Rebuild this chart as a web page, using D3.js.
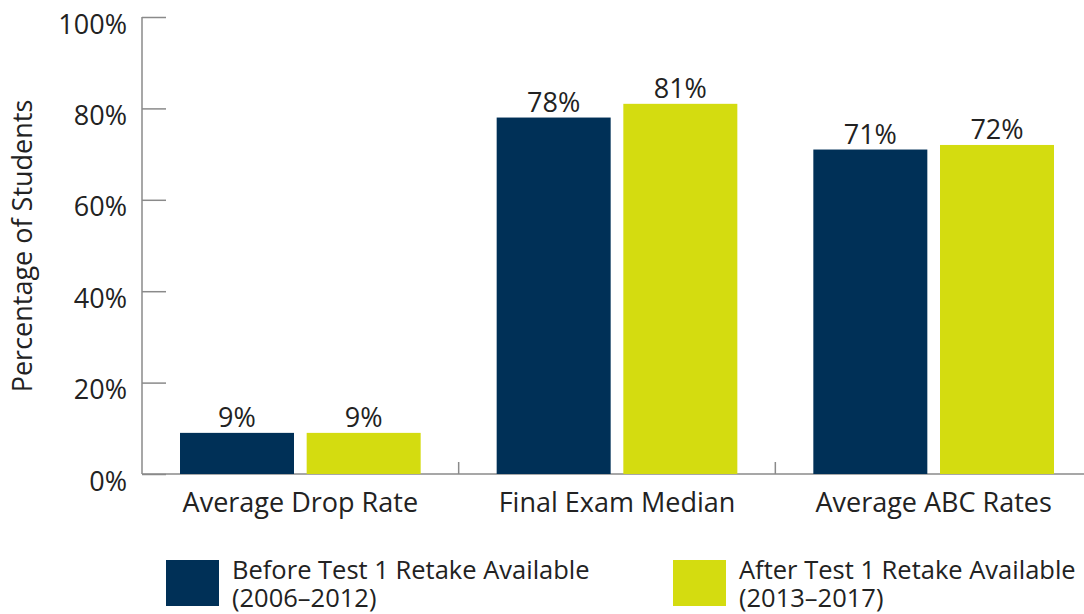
<!DOCTYPE html>
<html>
<head>
<meta charset="utf-8">
<script src="https://cdn.jsdelivr.net/npm/d3@7"></script>
<style>
  body { margin: 0; background: #fff; }
  svg { display: block; font-family: "Open Sans", "Noto Sans", sans-serif; }
</style>
</head>
<body>
<svg id="chart" width="1084" height="614"></svg>
<script>
const categories = ["Average Drop Rate", "Final Exam Median", "Average ABC Rates"];
const seriesKeys = ["before", "after"];
const beforeValues = [9, 78, 71];
const afterValues = [9, 81, 72];
const yTicks = [0, 20, 40, 60, 80, 100];
const legendLines = {
  before: ["Before Test 1 Retake Available", "(2006\u20132012)"],
  after: ["After Test 1 Retake Available", "(2013\u20132017)"],
};

const color = { before: "#003057", after: "#d4dc10" };
const textColor = "#222";
const axisColor = "#8a8a8a";
const fontSize = "27px";

const svg = d3.select("#chart");

const data = categories.map((c, i) => ({ category: c, before: beforeValues[i], after: afterValues[i] }));

const x0 = d3.scaleBand().domain(categories).range([142, 1092]).paddingInner(0).paddingOuter(0);
const x1 = d3.scaleBand().domain(seriesKeys).range([38, x0.bandwidth() - 38]).paddingInner(0.1);
const y = d3.scaleLinear().domain([0, 100]).range([474, 17]);

// y axis
const gy = svg.append("g").attr("transform", "translate(142,0)");
gy.call(d3.axisRight(y).tickValues(yTicks).tickSize(24).tickFormat(d => d + "%"));
gy.select(".domain").attr("stroke", axisColor).attr("stroke-width", 1.5).attr("d", "M0,17V474");
gy.selectAll(".tick line").attr("stroke", axisColor).attr("stroke-width", 1.5);
gy.selectAll(".tick text")
  .attr("x", -15).attr("y", 16).attr("dy", null)
  .attr("text-anchor", "end")
  .attr("fill", textColor)
  .style("font-size", fontSize)
  .style("font-family", "'Open Sans', sans-serif");

// x axis
const gx = svg.append("g").attr("transform", "translate(0,474)");
gx.append("line").attr("x1", 142).attr("x2", 1092).attr("stroke", axisColor).attr("stroke-width", 1.5);
gx.selectAll("line.sep")
  .data(categories.slice(1))
  .join("line")
  .attr("class", "sep")
  .attr("x1", d => x0(d)).attr("x2", d => x0(d))
  .attr("y1", 0).attr("y2", -12)
  .attr("stroke", axisColor).attr("stroke-width", 1.5);
gx.selectAll("text.cat")
  .data(categories)
  .join("text")
  .attr("class", "cat")
  .attr("x", d => x0(d) + x0.bandwidth() / 2)
  .attr("y", 38)
  .attr("text-anchor", "middle")
  .attr("fill", textColor)
  .style("font-size", fontSize)
  .text(d => d);

// bars
const flat = data.flatMap(d => seriesKeys.map(k => ({ category: d.category, key: k, value: d[k] })));
svg.append("g").selectAll("rect")
  .data(flat)
  .join("rect")
  .attr("x", d => x0(d.category) + x1(d.key))
  .attr("y", d => y(d.value))
  .attr("width", x1.bandwidth())
  .attr("height", d => y(0) - y(d.value))
  .attr("fill", d => color[d.key]);

svg.append("g").selectAll("text")
  .data(flat)
  .join("text")
  .attr("x", d => x0(d.category) + x1(d.key) + x1.bandwidth() / 2)
  .attr("y", d => y(d.value) - 6)
  .attr("text-anchor", "middle")
  .attr("fill", textColor)
  .style("font-size", fontSize)
  .text(d => d.value + "%");

// y title
svg.append("text")
  .attr("transform", "translate(32,246) rotate(-90)")
  .attr("text-anchor", "middle")
  .attr("fill", textColor)
  .style("font-size", fontSize)
  .text("Percentage of Students");

// legend
const legendX = { before: 166, after: 673 };
const lg = svg.append("g").selectAll("g")
  .data(seriesKeys)
  .join("g")
  .attr("transform", d => `translate(${legendX[d]},560)`);
lg.append("rect").attr("width", 53).attr("height", 46).attr("fill", d => color[d]);
lg.append("text")
  .attr("fill", textColor)
  .style("font-size", "25.5px")
  .selectAll("tspan")
  .data(d => legendLines[d])
  .join("tspan")
  .attr("x", 66)
  .attr("y", (d, i) => 19 + i * 28)
  .text(d => d);
</script>
</body>
</html>
